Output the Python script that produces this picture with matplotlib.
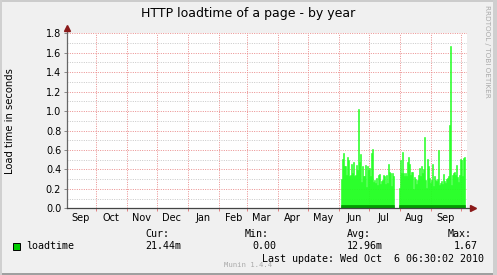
import datetime as dt
import numpy as np
import matplotlib
matplotlib.use("Agg")
import matplotlib.pyplot as plt
import matplotlib.dates as mdates
from matplotlib.patches import Rectangle

# daily max load time (seconds), two runs of data separated by a gap
block1_start = dt.date(2010, 6, 3)
block1 = [0.30, 0.51, 0.57, 0.43, 0.43, 0.34, 0.53, 0.50, 0.33, 0.34,
          0.46, 0.36, 0.48, 0.33, 0.34, 0.45, 0.39, 1.02, 0.48, 0.56,
          0.27, 0.43, 0.33, 0.33, 0.45, 0.22, 0.43, 0.39, 0.41, 0.33,
          0.57, 0.61, 0.27, 0.29, 0.26, 0.31, 0.24, 0.34, 0.35, 0.25,
          0.28, 0.29, 0.34, 0.33, 0.25, 0.34, 0.26, 0.46, 0.37, 0.36,
          0.23, 0.36, 0.33]
block2_start = dt.date(2010, 7, 31)
block2 = [0.21, 0.50, 0.36, 0.58, 0.36, 0.33, 0.36, 0.33, 0.48, 0.53,
          0.46, 0.34, 0.37, 0.37, 0.20, 0.32, 0.30, 0.25, 0.29, 0.34,
          0.41, 0.33, 0.43, 0.36, 0.40, 0.73, 0.29, 0.21, 0.51, 0.44,
          0.31, 0.26, 0.29, 0.46, 0.23, 0.33, 0.29, 0.28, 0.30, 0.60,
          0.24, 0.26, 0.28, 0.25, 0.35, 0.28, 0.26, 0.30, 0.31, 0.33,
          0.86, 1.67, 0.24, 0.34, 0.36, 0.37, 0.34, 0.45, 0.32, 0.27,
          0.34, 0.51, 0.50, 0.33, 0.52, 0.53]
avg_level = [0.03, 0.03]

x_start = dt.date(2009, 9, 2)
x_end = dt.date(2010, 10, 7)

stats_head = ["Cur:", "Min:", "Avg:", "Max:"]
stats_vals = ["21.44m", "0.00", "12.96m", "1.67"]

W, H = 497, 275
fig = plt.figure(figsize=(W / 100, H / 100), dpi=100, facecolor="#f0f0f0")


def fx(x):
    return x / W


def fy(y):
    return 1 - y / H


ax = fig.add_axes([fx(66.7), fy(208.3), 400 / W, 175 / H], facecolor="white")

for start, vals, avg in [(block1_start, block1, avg_level[0]), (block2_start, block2, avg_level[1])]:
    days = [start + dt.timedelta(days=i) for i in range(len(vals))]
    ax.bar(days, vals, width=1.0, align="edge", color="#22ff22",
           edgecolor="#22ff22", linewidth=0.4, zorder=3)
    ax.bar(days, [avg] * len(vals), width=1.0, align="edge", color="#009a00",
           edgecolor="#009a00", linewidth=0.4, zorder=4)

ax.set_xlim(x_start, x_end)
ax.set_ylim(0, 1.8)

ax.xaxis.set_major_locator(mdates.MonthLocator())
ax.xaxis.set_major_formatter(plt.NullFormatter())
ax.xaxis.set_minor_locator(mdates.MonthLocator(bymonthday=16))
ax.xaxis.set_minor_formatter(mdates.DateFormatter("%b"))
ax.tick_params(axis="x", which="major", length=2.2, width=0.7, color="#e08080", direction="out")
ax.tick_params(axis="x", which="minor", length=0, pad=3.5, labelsize=7)

ax.set_yticks(np.arange(0, 1.81, 0.2))
ax.set_yticks(np.arange(0.1, 1.8, 0.2), minor=True)
ax.yaxis.set_major_formatter(plt.FormatStrFormatter("%.1f"))
ax.tick_params(axis="y", which="major", length=2.5, width=0.7, color="#888888", pad=1.5, labelsize=7)
ax.tick_params(axis="y", which="minor", length=0)

dot = (0, (1, 1.4))
ax.grid(True, which="major", axis="both", color="#ea8c8c", linestyle=dot, linewidth=0.7, zorder=1)
ax.grid(True, which="minor", axis="y", color="#c8c8c8", linestyle=dot, linewidth=0.7, zorder=1)
ax.set_axisbelow(True)

for s in ax.spines.values():
    s.set_visible(False)
ax.plot([0, 0], [0, 1.025], transform=ax.transAxes, color="#666666", lw=0.9, clip_on=False, zorder=5)
ax.plot([0, 1.012], [0, 0], transform=ax.transAxes, color="#444444", lw=0.9, clip_on=False, zorder=5)
ax.plot([0], [1.03], marker="^", ms=4, color="#8b1a1a", transform=ax.transAxes, clip_on=False, zorder=6)
ax.plot([1.015], [0], marker=">", ms=4, color="#8b1a1a", transform=ax.transAxes, clip_on=False, zorder=6)

fig.text(fx(248), fy(13), "HTTP loadtime of a page - by year", ha="center", va="center", fontsize=9)
fig.text(fx(10), fy(120.8), "Load time in seconds", rotation=90, ha="center", va="center", fontsize=7.2)
fig.text(fx(487.5), fy(5), "RRDTOOL / TOBI OETIKER", rotation=270, ha="center", va="top",
         fontsize=5.2, color="#aaaaaa")

mono = "DejaVu Sans Mono"
fig.patches.append(Rectangle((fx(13.3), fy(250)), 6.7 / W, 6.7 / H, transform=fig.transFigure,
                             facecolor="#00cc00", edgecolor="black", linewidth=0.7))
fig.text(fx(26), fy(249.3), "loadtime", family=mono, fontsize=7.2, va="baseline")
head_x = [145.7, 245, 346.7, 447.7]
val_x = [145.7, 252.7, 346.7, 453.3]
for hx, vx, h, v in zip(head_x, val_x, stats_head, stats_vals):
    fig.text(fx(hx), fy(236.7), h, family=mono, fontsize=7.2, va="baseline")
    fig.text(fx(vx), fy(249.3), v, family=mono, fontsize=7.2, va="baseline")
fig.text(fx(261.7), fy(261.7), "Last update: Wed Oct  6 06:30:02 2010", family=mono, fontsize=7.2, va="baseline")
fig.text(fx(224.3), fy(267.3), "Munin 1.4.4", family=mono, fontsize=5.2, va="baseline", color="#aaaaaa")

# 3d frame round the image
fig.patches.append(Rectangle((0, 1 - 2 / H), 1, 2 / H, transform=fig.transFigure, facecolor="#cccccc", edgecolor="none"))
fig.patches.append(Rectangle((0, 0), 1, 2.5 / H, transform=fig.transFigure, facecolor="#a0a0a0", edgecolor="none"))
fig.patches.append(Rectangle((1 - 4 / W, 0), 4 / W, 1, transform=fig.transFigure, facecolor="#cfcfcf", edgecolor="none"))
fig.patches.append(Rectangle((0, 0), 1.5 / W, 1, transform=fig.transFigure, facecolor="#d0d0d0", edgecolor="none"))

fig.savefig("out.png", dpi=100, facecolor=fig.get_facecolor())
